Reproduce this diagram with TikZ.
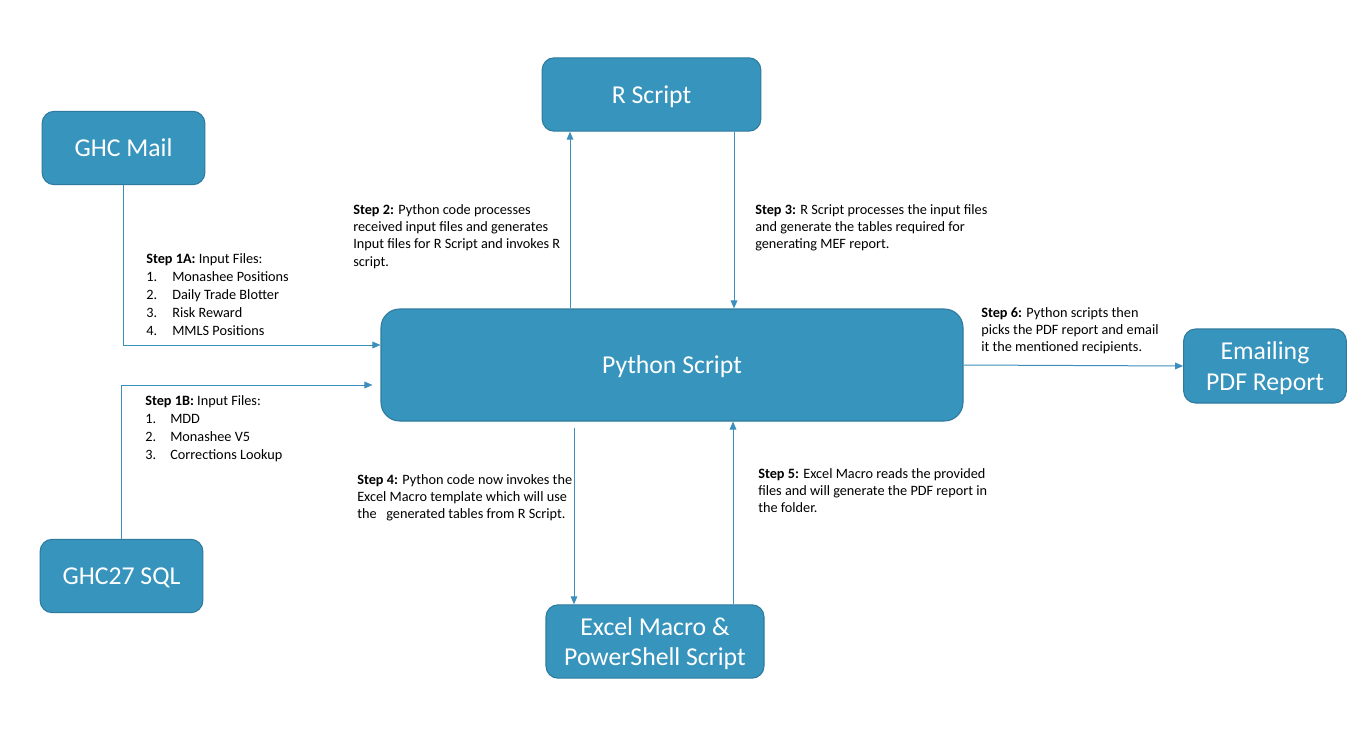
\documentclass[tikz,border=0pt]{standalone}
\usepackage{fontspec}
\setmainfont{Carlito}
\usepackage{tikz}
\usetikzlibrary{arrows.meta, calc, positioning}
\definecolor{boxblue}{HTML}{3794BD}
\definecolor{boxedge}{HTML}{2E7B9E}
\definecolor{linkblue}{HTML}{3C8FBC}

\begin{document}
\begin{tikzpicture}[
    x=0.75pt, y=-0.75pt,
    box/.style={rectangle, draw=boxedge, fill=boxblue, line width=0.8pt, rounded corners=9pt, minimum width=122pt, minimum height=55pt, align=center, text=white, text depth=0pt, font=\fontsize{19.3}{23}\selectfont},
    arrow/.style={-{Triangle[length=6pt, width=5pt]}, linkblue, line width=0.75pt},
    note/.style={anchor=north west, inner sep=0pt, align=left, font=\fontsize{10.7}{13}\selectfont},
    listnote/.style={note, font=\fontsize{10.7}{13.5}\selectfont}
]
% Fond
\path[fill=white] (0,0) rectangle (1358,741);

% Boites principales
\node[box] (ghcmail) at (123.5,148) {GHC Mail};
\node[box] (ghcsql) at (121.5,576) {GHC27 SQL};
\node[box, minimum width=164pt] (rscript) at (651.5,94.5) {R Script};
\node[box, minimum width=436.5pt, minimum height=84pt, rounded corners=14pt] (python) at (672,365) {Python Script};
\node[box, minimum height=55.5pt] (email) at (1265,366) {Emailing\\PDF Report};
\node[box, minimum width=163.5pt] (excel) at (655,641.5) {Excel Macro \&\\PowerShell Script};

% Fleches
\draw[arrow] (ghcmail.south) |- ($(python.west)+(0,-20)$);
\draw[arrow] (ghcsql.north) |- ($(python.west)+(-8,20)$);
\draw[arrow] ($(python.north)+(-102,0)$) -- ($(rscript.south)+(-81.5,0)$);
\draw[arrow] ($(rscript.south)+(82.5,0)$) -- ($(python.north)+(62,0)$);
\draw[arrow] ($(python.south)+(-98,6)$) -- ($(excel.north)+(-81,0)$);
\draw[arrow] ($(excel.north)+(78,0)$) -- ($(python.south)+(61,0)$);
\draw[arrow] (python.east) -- (email.west);

% Etapes
\node[listnote] (step1a) at (146,253) {\textbf{Step 1A:} Input Files:\\
    \makebox[19.5pt][l]{1.}Monashee Positions\\
    \makebox[19.5pt][l]{2.}Daily Trade Blotter\\
    \makebox[19.5pt][l]{3.}Risk Reward\\
    \makebox[19.5pt][l]{4.}MMLS Positions};
\node[listnote] (step1b) at (145,395) {\textbf{Step 1B:} Input Files:\\
    \makebox[18.75pt][l]{1.}MDD\\
    \makebox[18.75pt][l]{2.}Monashee V5\\
    \makebox[18.75pt][l]{3.}Corrections Lookup};
\node[note] (step2) at (353,204) {\textbf{Step 2:} Python code processes\\received input files and generates\\Input files for R Script and invokes R\\script.};
\node[note] (step3) at (755,204) {\textbf{Step 3:} R Script processes the input files\\and generate the tables required for\\generating MEF report.};
\node[note] (step6) at (981,307) {\textbf{Step 6:} Python scripts then\\picks the PDF report and email\\it the mentioned recipients.};
\node[note] (step4) at (357,474) {\textbf{Step 4:} Python code now invokes the\\Excel Macro template which will use\\the\ \ \ generated tables from R Script.};
\node[note] (step5) at (758,468) {\textbf{Step 5:} Excel Macro reads the provided\\files and will generate the PDF report in\\the folder.};
\end{tikzpicture}
\end{document}
